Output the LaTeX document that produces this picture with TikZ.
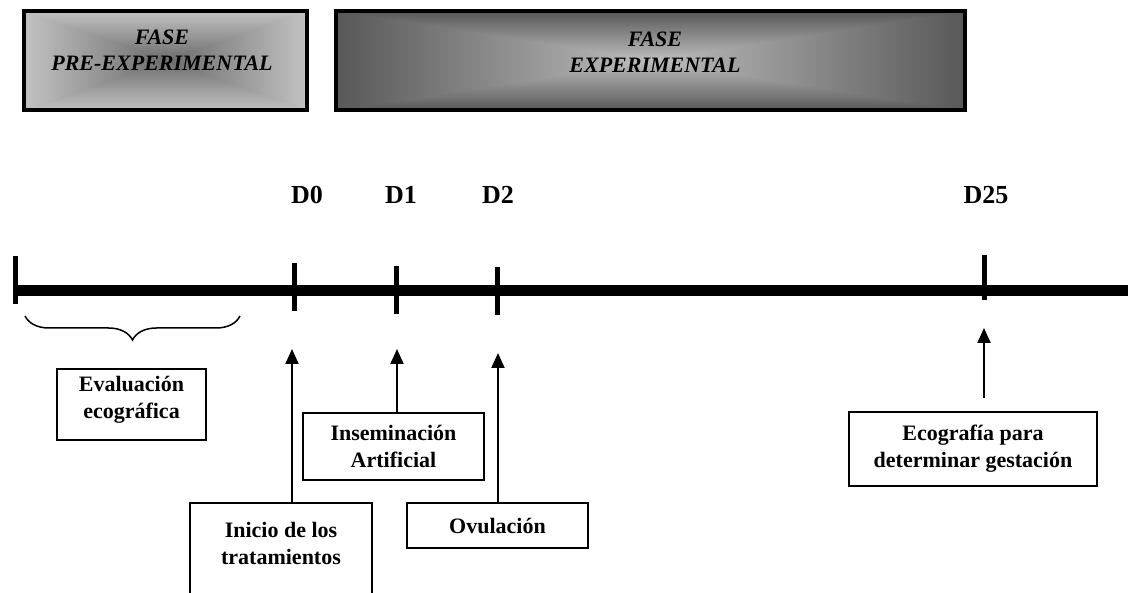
\documentclass[tikz,border=0pt]{standalone}
\usepackage{fontspec}
\setmainfont{Liberation Serif}
\usetikzlibrary{arrows.meta,calc,decorations.pathreplacing}

\definecolor{preborde}{HTML}{C2C2C2}
\definecolor{precentro}{HTML}{6C6C6C}
\definecolor{expborde}{HTML}{585858}
\definecolor{expcentro}{HTML}{BEBEBE}

% rectangle filled "from centre": corner, corner, edge colour, centre colour
\newcommand{\gradrect}[4]{%
  \coordinate (g1) at #1; \coordinate (g2) at #2;
  \coordinate (gc) at ($(g1)!.5!(g2)$);
  \shade[left color=#3, right color=#4] (g1) rectangle ($(gc |- g2)+(2,0)$);
  \shade[left color=#4, right color=#3] (gc |- g1) rectangle (g2);
  \begin{scope}\clip (g1) -- (g2 |- g1) -- (gc) -- cycle;
    \shade[top color=#3, bottom color=#4] (g1) rectangle (g2 |- gc);\end{scope}
  \begin{scope}\clip (g1 |- g2) -- (g2) -- (gc) -- cycle;
    \shade[top color=#4, bottom color=#3] (g1 |- gc) rectangle (g2);\end{scope}}

\tikzset{
  evento/.style={draw, line width=1.8pt, align=center, inner sep=0pt,
    font=\bfseries\fontsize{22}{27}\selectfont},
  fasebox/.style={draw, line width=3.5pt, inner sep=0pt},
  fasetxt/.style={align=center, font=\bfseries\itshape\fontsize{22}{26}\selectfont},
  dia/.style={font=\bfseries\fontsize{26}{30}\selectfont},
  marca/.style={line width=5pt},
  flecha/.style={line width=2pt, -{Triangle[length=15pt,width=13pt]}},
}

\begin{document}
\begin{tikzpicture}[x=1pt,y=-1pt]
\useasboundingbox (0,0) rectangle (1128,593);

% Phase boxes
\gradrect{(24,11)}{(307,110)}{preborde}{precentro}
\node[fasebox, minimum width=283pt, minimum height=99pt] (pre) at (165.5,60.5) {};
\node[fasetxt] (pretxt) at (162,50) {FASE\\PRE-EXPERIMENTAL};
\gradrect{(336,11)}{(965,110)}{expborde}{expcentro}
\node[fasebox, minimum width=629pt, minimum height=99pt] (exp) at (650.5,60.5) {};
\node[fasetxt] (exptxt) at (655,52) {FASE\\EXPERIMENTAL};

% Days
\node[dia] (d0) at (307,195) {D0};
\node[dia] (d1) at (401,195) {D1};
\node[dia] (d2) at (498,195) {D2};
\node[dia] (d25) at (986,195) {D25};

% Time line and ticks
\draw[line width=11pt] (15,291) -- (1135,291);
\foreach \x/\a/\b in {15/256/304, 294/263/311, 396/266/314, 497/267/315, 984/255/300}
  \draw[marca] (\x,\a) -- (\x,\b);

% Brace
\draw[line width=1.5pt, decorate, decoration={brace, amplitude=24pt}] (240,316) -- (25,316);

% Events
\node[evento, minimum width=149pt, minimum height=71pt] (eval) at (131.5,404.5) {};
\node[evento, draw=none] (evaltxt) at (131.5,400) {Evaluación\\ecográfica};
\node[evento, minimum width=181pt, minimum height=67pt] (insem) at (393.5,446.5) {Inseminación\\Artificial};
\node[evento, minimum width=182pt, minimum height=94pt] (inicio) at (281,550) {};
\node[evento, draw=none] (iniciotxt) at (281,543) {Inicio de los\\tratamientos};
\node[evento, minimum width=181pt, minimum height=45pt] (ovul) at (497.5,525.5) {Ovulación};
\node[evento, minimum width=248pt, minimum height=74pt] (ecog) at (973,449) {Ecografía para\\determinar gestación};

% Arrows
\coordinate (a0) at (292,349);
\coordinate (a1) at (397,349);
\coordinate (a2) at (498,353);
\coordinate (a25) at (984,328);
\draw[flecha] (inicio.north -| a0) -- (a0);
\draw[flecha] (insem.north -| a1) -- (a1);
\draw[flecha] (ovul.north -| a2) -- (a2);
\draw[flecha, shorten <=13pt] (ecog.north -| a25) -- (a25);

\end{tikzpicture}
\end{document}
